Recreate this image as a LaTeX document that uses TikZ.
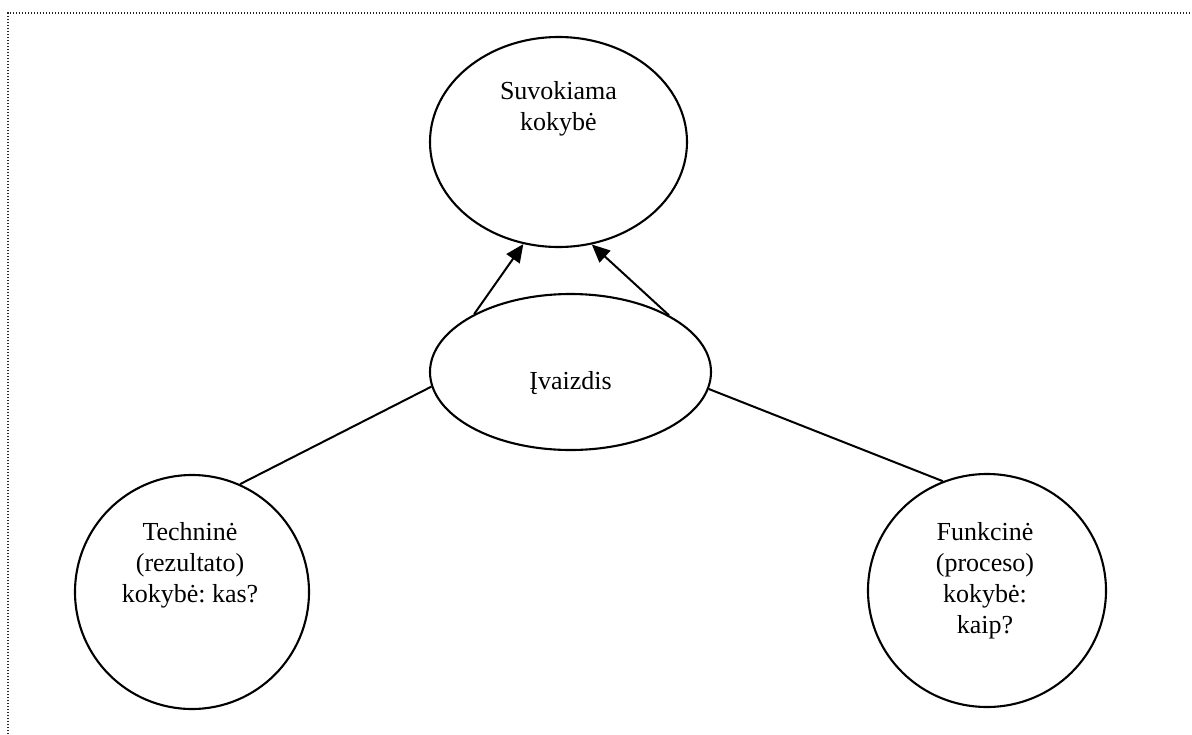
\documentclass[tikz,border=0pt]{standalone}
\usepackage{fontspec}
\setmainfont{Liberation Serif}
\usetikzlibrary{arrows.meta,shapes.geometric}
\frenchspacing
\begin{document}
\begin{tikzpicture}[x=1pt,y=-1pt,
  bubble/.style={draw=black,line width=2.1pt,ellipse,inner sep=0pt},
  lbl/.style={align=center,inner sep=0pt,anchor=north,font=\fontsize{26}{31}\selectfont},
  conn/.style={line width=2pt},
  arr/.style={line width=2pt,-{Triangle[length=18pt,width=16pt]}},
  frame/.style={line width=1.3pt,black!85,dash pattern=on 1.2pt off 1.8pt}]
\useasboundingbox (0,0) rectangle (1192,734);
\coordinate (fa) at (8,734);
\coordinate (fb) at (8,13);
\coordinate (fc) at (1192,13);
\draw[frame] (fa) -- (fb) -- (fc);
\node[bubble,minimum width=257pt,minimum height=210pt] (suv) at (558.5,142) {};
\node[bubble,minimum width=281pt,minimum height=156pt] (iv) at (570.5,372) {};
\node[bubble,minimum width=234pt,minimum height=234pt] (tech) at (192,592) {};
\node[bubble,minimum width=238pt,minimum height=233pt] (func) at (987,590.5) {};
\node[lbl] (tsuv) at (558.5,81) {Suvokiama\\kokybė};
\node[lbl] (tiv) at (570.5,371) {Įvaizdis};
\node[lbl] (ttech) at (190,522) {Techninė\\(rezultato)\\kokybė: kas?};
\node[lbl] (tfunc) at (985,522) {Funkcinė\\(proceso)\\kokybė:\\kaip?};
\draw[arr] (iv.149.5) -- (suv.251.3);
\draw[arr] (iv.30.2) -- (suv.288.5);
\draw[conn] (iv.186.1) -- (tech.66);
\draw[conn] (iv.353.9) -- (func.112.7);
\end{tikzpicture}
\end{document}
